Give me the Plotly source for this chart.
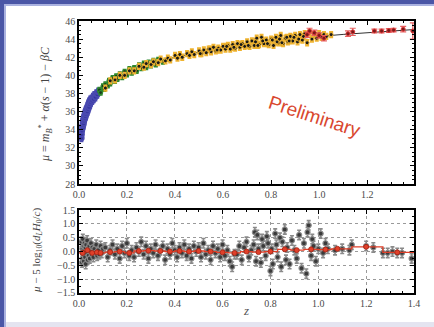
import plotly.graph_objects as go
from plotly.subplots import make_subplots

# ---------------- data ----------------
model_z = [0.01, 0.015, 0.02, 0.03, 0.04, 0.05, 0.06, 0.07, 0.08, 0.1, 0.125, 0.15, 0.2,
           0.25, 0.3, 0.4, 0.5, 0.6, 0.7, 0.8, 0.9, 1.0, 1.1, 1.2, 1.3, 1.39]
model_mu = [33.4, 34.3, 34.9, 35.8, 36.5, 37.0, 37.4, 37.8, 38.1, 38.6, 39.15, 39.6, 40.3,
            40.85, 41.3, 42.0, 42.55, 43.0, 43.4, 43.75, 44.05, 44.3, 44.52, 44.72, 44.9, 45.05]

blue_z = [0.010, 0.011, 0.012, 0.014, 0.015, 0.016, 0.017, 0.018, 0.019, 0.020,
          0.021, 0.022, 0.023, 0.024, 0.025, 0.026, 0.027, 0.028, 0.030, 0.031,
          0.032, 0.033, 0.035, 0.036, 0.038, 0.040, 0.042, 0.043, 0.045, 0.047,
          0.050, 0.052, 0.055, 0.058, 0.061, 0.064, 0.068, 0.072, 0.076, 0.080]
blue_mu = [33.1, 33.5, 33.9, 34.4, 34.2, 34.8, 34.5, 35.1, 34.7, 35.3,
           35.0, 35.5, 35.2, 35.7, 35.3, 35.8, 35.5, 36.1, 35.7, 36.2,
           35.9, 36.4, 36.0, 36.6, 36.3, 36.9, 36.5, 37.1, 36.8, 37.3,
           37.0, 37.4, 37.2, 37.6, 37.4, 37.8, 37.6, 38.0, 37.9, 38.2]

green_z = [0.085, 0.09, 0.10, 0.105, 0.11, 0.12, 0.125, 0.13, 0.14, 0.15,
           0.155, 0.16, 0.17, 0.18, 0.19, 0.20, 0.21, 0.22, 0.23, 0.24,
           0.25, 0.26, 0.27, 0.28, 0.29, 0.30, 0.31, 0.32, 0.33, 0.35]
green_mu = [38.4, 38.1, 38.8, 38.5, 39.0, 38.9, 39.4, 39.1, 39.7, 39.4,
            39.9, 39.6, 40.1, 39.8, 40.4, 40.1, 40.7, 40.3, 40.8, 40.5,
            41.1, 40.8, 41.3, 40.9, 41.4, 41.1, 41.6, 41.2, 41.7, 41.5]

orange_z = [0.11, 0.13, 0.15, 0.17, 0.19, 0.21, 0.23, 0.25, 0.27, 0.28,
            0.30, 0.31, 0.33, 0.34, 0.36, 0.37, 0.38, 0.40, 0.41, 0.42,
            0.43, 0.45, 0.46, 0.47, 0.48, 0.50, 0.51, 0.52, 0.53, 0.54,
            0.55, 0.56, 0.57, 0.58, 0.59, 0.60, 0.61, 0.62, 0.63, 0.64,
            0.65, 0.66, 0.67, 0.68, 0.69, 0.70, 0.71, 0.72, 0.73, 0.74,
            0.75, 0.76, 0.77, 0.78, 0.79, 0.80, 0.81, 0.82, 0.83, 0.84,
            0.85, 0.86, 0.87, 0.88, 0.89, 0.90, 0.91, 0.92, 0.93, 0.94,
            0.95, 0.96, 0.97, 0.98, 0.99, 1.00, 1.01, 1.02, 1.03, 1.05,
            0.505, 0.545, 0.575, 0.615, 0.645, 0.675, 0.705, 0.735, 0.745, 0.765,
            0.785, 0.805, 0.825, 0.835, 0.845, 0.865, 0.875, 0.895, 0.915, 0.935]
orange_mu = [38.6, 39.4, 39.5, 40.0, 40.0, 40.5, 40.5, 41.0, 40.9, 41.3,
             41.2, 41.5, 41.4, 41.8, 41.6, 41.9, 41.7, 42.2, 41.9, 42.3,
             42.0, 42.4, 42.2, 42.6, 42.3, 42.7, 42.4, 42.8, 42.5, 42.9,
             42.6, 43.1, 42.7, 43.0, 42.8, 43.2, 42.9, 43.3, 42.9, 43.4,
             43.0, 43.5, 43.1, 43.5, 43.2, 43.7, 43.2, 43.8, 43.3, 44.1,
             43.4, 44.2, 43.5, 43.9, 43.4, 44.0, 43.3, 44.2, 43.6, 44.4,
             43.5, 44.1, 43.7, 44.3, 43.8, 44.4, 43.7, 44.5, 43.9, 44.6,
             43.6, 44.7, 44.0, 44.5, 44.1, 44.6, 44.2, 44.5, 44.3, 44.5,
             42.4, 42.9, 42.8, 43.2, 43.1, 43.4, 43.3, 43.7, 43.3, 43.8,
             43.5, 43.9, 43.7, 44.0, 43.6, 44.2, 43.8, 44.2, 44.0, 44.3]

red_z = [0.95, 0.96, 0.98, 1.00, 1.02, 1.12, 1.14, 1.23, 1.26, 1.29, 1.31, 1.35, 1.39]
red_mu = [44.5, 44.9, 44.7, 44.4, 44.1, 44.6, 44.8, 44.9, 44.9, 44.95, 45.0, 45.1, 44.9]
red_err = [0.3, 0.3, 0.3, 0.3, 0.3, 0.3, 0.4, 0.2, 0.2, 0.2, 0.2, 0.3, 0.9]

resid_z = [0.010, 0.012, 0.014, 0.015, 0.016, 0.018, 0.019, 0.020, 0.022, 0.023,
           0.025, 0.027, 0.028, 0.030, 0.032, 0.034, 0.036, 0.038, 0.040, 0.043,
           0.045, 0.048, 0.050, 0.053, 0.056, 0.060, 0.064, 0.068, 0.072, 0.076,
           0.080, 0.085, 0.090, 0.095, 0.100,
           0.11, 0.12, 0.13, 0.14, 0.15, 0.16, 0.17, 0.18, 0.19, 0.20,
           0.21, 0.22, 0.23, 0.24, 0.25, 0.26, 0.27, 0.28, 0.29, 0.30,
           0.31, 0.32, 0.33, 0.34, 0.35, 0.36, 0.37, 0.38, 0.39, 0.40,
           0.41, 0.42, 0.43, 0.44, 0.45, 0.46, 0.47, 0.48, 0.49, 0.50,
           0.51, 0.52, 0.53, 0.54, 0.55, 0.56, 0.57, 0.58, 0.59, 0.60,
           0.61, 0.62, 0.63, 0.64, 0.65,
           0.66, 0.67, 0.68, 0.69, 0.70, 0.71, 0.72, 0.73, 0.735, 0.74,
           0.745, 0.75, 0.76, 0.765, 0.77, 0.78, 0.785, 0.79, 0.80, 0.805,
           0.81, 0.82, 0.825, 0.83, 0.84, 0.845, 0.85, 0.86, 0.865, 0.87,
           0.88, 0.89, 0.90, 0.91, 0.92, 0.93, 0.94, 0.95, 0.955, 0.96,
           0.97, 0.975, 0.98, 0.99, 1.00, 1.01, 1.02, 1.03, 1.04,
           1.07, 1.10, 1.13, 1.14, 1.20, 1.23, 1.27, 1.29, 1.31, 1.33, 1.35, 1.39]
resid = [0.35, -0.40, 0.10, -0.25, 0.45, -0.10, 0.20, -0.35, 0.05, 0.30,
         -0.20, 0.15, -0.45, 0.25, -0.05, 0.40, -0.30, 0.10, -0.15, 0.20,
         -0.25, 0.05, 0.30, -0.10, 0.15, -0.20, 0.10, -0.05, 0.25, -0.15,
         0.05, -0.10, 0.20, -0.05, 0.10,
         0.15, -0.20, 0.05, 0.25, -0.10, 0.10, -0.25, 0.20, -0.05, 0.30,
         -0.15, 0.05, -0.20, 0.15, 0.00, 0.35, -0.10, 0.20, -0.25, 0.10,
         -0.05, 0.25, -0.15, 0.05, 0.20, -0.30, 0.10, -0.10, 0.30, 0.05,
         -0.20, 0.15, -0.05, 0.25, -0.15, 0.10, -0.25, 0.20, 0.00, 0.15,
         -0.20, 0.30, -0.10, 0.05, -0.30, 0.20, -0.05, 0.10, -0.20, 0.25,
         -0.15, 0.05, -0.35, -0.55, -0.10,
         -0.10, 0.20, -0.30, 0.15, 0.35, -0.20, 0.05, 0.25, 0.70, -0.35,
         0.60, 0.10, -0.40, 0.45, 0.20, -0.15, 0.55, 0.30, -0.70, 0.10,
         -0.45, 0.65, 0.25, -0.20, 0.50, -0.55, 0.35, 0.80, -0.30, 0.15,
         -0.45, 0.40, 0.05, -0.25, 0.60, -0.60, 0.30, -0.80, 0.70, 0.95,
         -0.15, 0.45, 0.20, -0.35, 0.10, 0.65, -0.05, 0.30, 0.10,
         0.05, 0.10, 0.05, 0.25, 0.20, 0.15, -0.05, -0.05, 0.00, -0.05, -0.05, -0.25]

bin_z = [0.015, 0.035, 0.055, 0.075, 0.09, 0.13, 0.17, 0.21, 0.25, 0.29,
         0.34, 0.38, 0.42, 0.46, 0.50, 0.55, 0.60, 0.65, 0.70, 0.75,
         0.80, 0.86, 0.91, 0.97, 1.03, 1.08, 1.20, 1.33]
bin_r = [-0.05, 0.05, -0.05, -0.03, -0.05, -0.02, 0.00, -0.05, 0.02, 0.03,
         0.02, 0.00, 0.02, 0.00, 0.02, 0.00, -0.03, -0.05, 0.00, -0.02,
         0.00, 0.08, 0.05, 0.08, 0.07, 0.10, 0.17, -0.03]
bin_edges = [0.0, 0.025, 0.045, 0.065, 0.083, 0.11, 0.15, 0.19, 0.23, 0.27,
             0.315, 0.36, 0.40, 0.44, 0.48, 0.525, 0.575, 0.625, 0.675, 0.725,
             0.775, 0.83, 0.885, 0.94, 1.0, 1.055, 1.14, 1.27, 1.40]

top_xticks = [0.0, 0.2, 0.4, 0.6, 0.8, 1.0, 1.2]
bot_xticks = [0.0, 0.2, 0.4, 0.6, 0.8, 1.0, 1.2, 1.4]
top_yticks = [28, 30, 32, 34, 36, 38, 40, 42, 44, 46]
bot_yticks = [-1.5, -1.0, -0.5, 0.0, 0.5, 1.0, 1.5]

# ---------------- figure ----------------
SERIF = "Liberation Serif"
fig = make_subplots(rows=2, cols=1, vertical_spacing=0.0955, row_heights=[0.663, 0.337])

fig.add_trace(go.Scatter(x=model_z, y=model_mu, mode="lines",
                         line=dict(color="#333333", width=1), hoverinfo="skip"), row=1, col=1)


def group(x, y, col, errv, mcol="black", msize=3, lw=1.2):
    return go.Scatter(x=x, y=y, mode="markers",
                      marker=dict(size=msize, color=mcol, line=dict(color=col, width=lw)),
                      error_y=dict(type="constant", value=errv, color=col, thickness=2.2, width=2))


fig.add_trace(group(blue_z, blue_mu, "#4a4ab0", 0.35, mcol="#3535a0", msize=5, lw=1.5), row=1, col=1)
fig.add_trace(group(green_z, green_mu, "#2f8a2f", 0.22, mcol="#1a3a1a", msize=4), row=1, col=1)
fig.add_trace(group(orange_z, orange_mu, "#f0b430", 0.28, mcol="#1a1a1a", msize=4, lw=1.0), row=1, col=1)
fig.add_trace(go.Scatter(x=red_z, y=red_mu, mode="markers",
                         marker=dict(size=4, color="#7a1a1a", line=dict(color="#e03a3a", width=1)),
                         error_y=dict(type="data", array=red_err, color="#e86060", thickness=1.2, width=3)),
              row=1, col=1)

fig.add_trace(go.Scatter(x=resid_z, y=resid, mode="markers",
                         marker=dict(size=5, color="#3a3a3a", line=dict(color="#8a8a8a", width=1.2)),
                         error_y=dict(type="constant", value=0.17, color="#8a8a8a", thickness=1.6, width=2)),
              row=2, col=1)
fig.add_trace(go.Scatter(x=bin_edges, y=bin_r + [bin_r[-1]], mode="lines", line_shape="hv",
                         line=dict(color="#e0402a", width=1.3)), row=2, col=1)
fig.add_trace(go.Scatter(x=bin_z, y=bin_r, mode="markers",
                         marker=dict(size=5, color="#e0402a", line=dict(color="#a02010", width=0.8))),
              row=2, col=1)

axis_common = dict(showline=True, linecolor="black", linewidth=1.5, mirror="ticks",
                   ticks="inside", ticklen=4, tickcolor="black", tickwidth=1,
                   tickfont=dict(family=SERIF, size=10, color="#4a4a4a"), zeroline=False,
                   minor=dict(ticks="inside", ticklen=2, tickcolor="black", tickwidth=0.8))

fig.update_xaxes(**axis_common, range=[0, 1.395], tickvals=top_xticks,
                 ticktext=[f"{v:.1f}" for v in top_xticks], showgrid=False,
                 minor_dtick=0.05, row=1, col=1)
fig.update_yaxes(**axis_common, range=[28, 46], tickvals=top_yticks,
                 ticktext=[str(v) for v in top_yticks], showgrid=False,
                 minor_dtick=0.5, row=1, col=1)
fig.update_xaxes(**axis_common, range=[0, 1.4], tickvals=bot_xticks,
                 ticktext=[f"{v:.1f}" for v in bot_xticks], showgrid=True,
                 gridcolor="#9a9a9a", griddash="dot", gridwidth=1,
                 minor_dtick=0.05, row=2, col=1)
fig.update_yaxes(**axis_common, range=[-1.5, 1.5], tickvals=bot_yticks,
                 ticktext=[f"{v:.1f}".replace("-", "\u2212") for v in bot_yticks], showgrid=True,
                 gridcolor="#9a9a9a", griddash="dot", gridwidth=1,
                 minor_dtick=0.25, row=2, col=1)

fig.update_layout(
    width=434, height=327, showlegend=False,
    margin=dict(l=79, r=20, t=21, b=34),
    paper_bgcolor="#4a56a6", plot_bgcolor="white",
    shapes=[
        dict(type="rect", xref="paper", yref="paper", layer="below",
             x0=(4 - 79) / 335, x1=(440 - 79) / 335, y0=-(330 - 293) / 272, y1=1 + (21 - 4) / 272,
             fillcolor="#aab2e0", line=dict(width=0)),
        dict(type="rect", xref="paper", yref="paper", layer="below",
             x0=(6 - 79) / 335, x1=(440 - 79) / 335, y0=-(330 - 293) / 272, y1=1 + (21 - 6) / 272,
             fillcolor="#e4e4f0", line=dict(width=0)),
        dict(type="rect", xref="paper", yref="paper", layer="below",
             x0=(6 - 79) / 335, x1=(440 - 79) / 335, y0=-(322 - 293) / 272, y1=1 + (21 - 6) / 272,
             fillcolor="white", line=dict(width=0)),
    ],
    annotations=[
        dict(text="<i>μ</i> = <i>m</i><sub><i>B</i></sub><sup>*</sup> + <i>α</i>(<i>s</i> − 1) − <i>βC</i>",
             xref="paper", yref="paper", x=(45 - 79) / 335, y=1 - (104 - 21) / 272,
             textangle=-90, showarrow=False, xanchor="center", yanchor="middle",
             font=dict(family=SERIF, size=12, color="#444444")),
        dict(text="<i>μ</i> − 5 log<sub>10</sub>(<i>d<sub>L</sub>H</i><sub>0</sub>/<i>c</i>)",
             xref="paper", yref="paper", x=(37 - 79) / 335, y=1 - (251 - 21) / 272,
             textangle=-90, showarrow=False, xanchor="center", yanchor="middle",
             font=dict(family=SERIF, size=11, color="#444444")),
        dict(text="<i>z</i>", xref="paper", yref="paper", x=(246 - 79) / 335, y=-(310 - 293) / 272,
             showarrow=False, xanchor="center", yanchor="middle",
             font=dict(family=SERIF, size=13, color="#555555")),
        dict(text="Preliminary", xref="paper", yref="paper", x=(315 - 79) / 335, y=1 - (116 - 21) / 272,
             textangle=18, showarrow=False, xanchor="center", yanchor="middle",
             font=dict(family="Liberation Sans", size=19, color="#d9482f")),
    ],
)

fig.write_html("out.html", config={"displayModeBar": False},
               post_script="document.body.style.margin='0';document.body.style.overflow='hidden';")
